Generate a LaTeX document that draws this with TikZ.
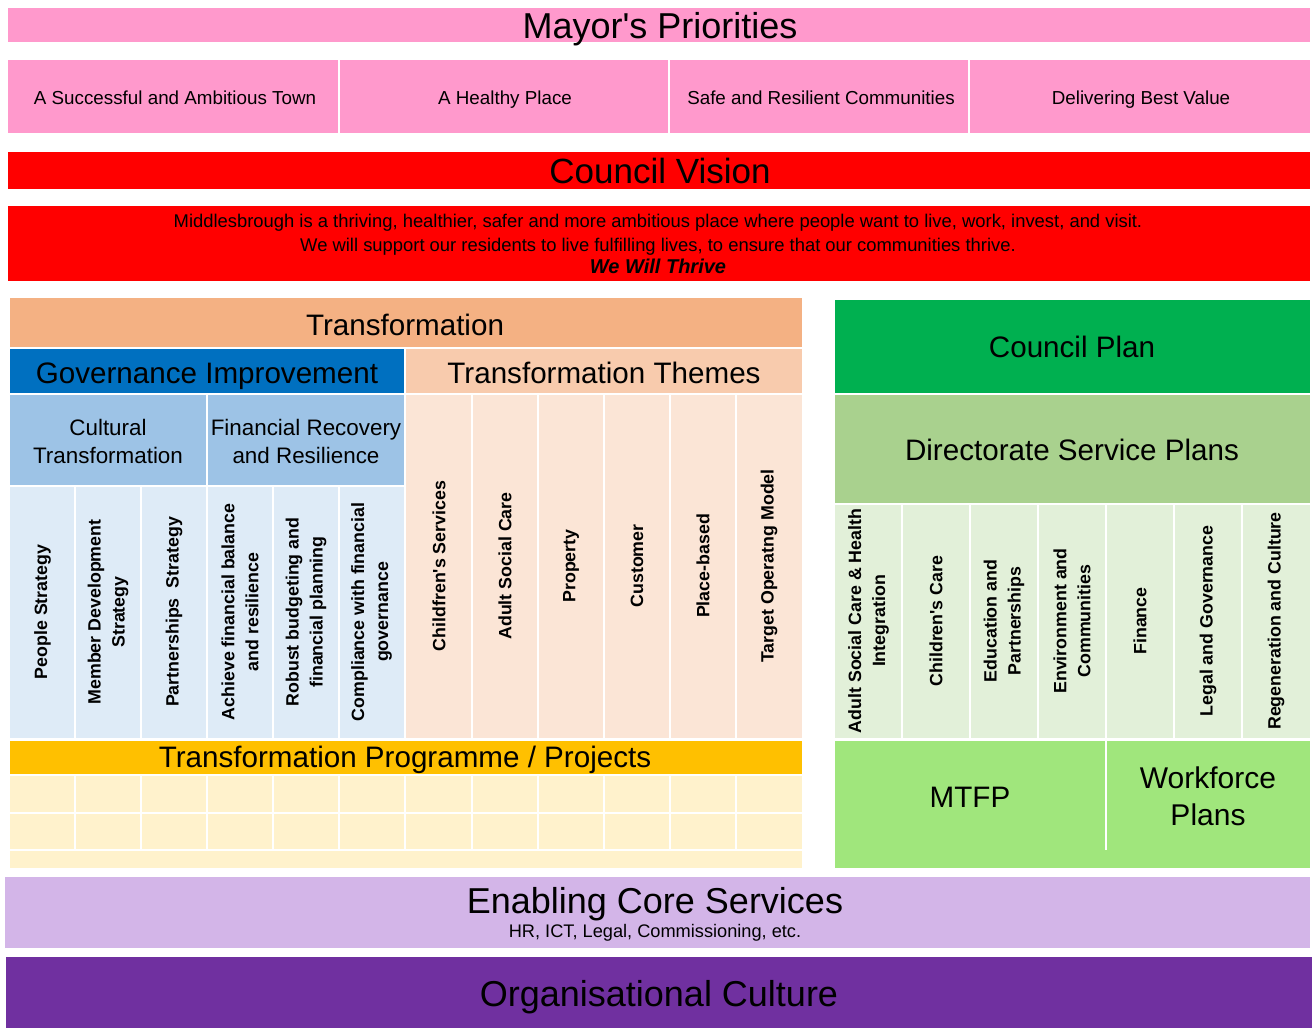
\documentclass[tikz,border=0pt]{standalone}
\usepackage{fontspec}
\setmainfont{Liberation Sans}
\definecolor{cPink}{HTML}{FF99CC}
\definecolor{cRed}{HTML}{FF0000}
\definecolor{cTrans}{HTML}{F4B183}
\definecolor{cBlue}{HTML}{0070C0}
\definecolor{cTheme}{HTML}{F8CBAD}
\definecolor{cMidBlue}{HTML}{9DC3E6}
\definecolor{cLightBlue}{HTML}{DEEBF7}
\definecolor{cThemeLight}{HTML}{FBE5D6}
\definecolor{cYellow}{HTML}{FFC000}
\definecolor{cCream}{HTML}{FFF2CC}
\definecolor{cGreen}{HTML}{00B050}
\definecolor{cDir}{HTML}{A9D18E}
\definecolor{cDirLight}{HTML}{E2F0D9}
\definecolor{cMTFP}{HTML}{A0E67C}
\definecolor{cLav}{HTML}{D3B5E8}
\definecolor{cPurple}{HTML}{7030A0}
\tikzset{
  every node/.style={inner sep=0pt, outer sep=0pt},
  hbig/.style={font=\fontsize{18}{20}\selectfont, anchor=base},
  hmid/.style={font=\fontsize{14.8}{18}\selectfont, anchor=base},
  hsub/.style={font=\fontsize{11.2}{14}\selectfont, align=center},
  rlab/.style={rotate=90, font=\bfseries\fontsize{8.9}{12}\selectfont, align=center},
  prio/.style={font=\fontsize{9.4}{11}\selectfont, anchor=base},
  vis/.style={font=\fontsize{9.2}{10}\selectfont, anchor=base},
  sep/.style={draw=white, line width=1pt},
}
\begin{document}
\begin{tikzpicture}[x=0.5pt,y=-0.5pt]
\useasboundingbox (0,0) rectangle (1315,1028);
\fill[white] (0,0) rectangle (1315,1028);

% Mayor's priorities
\fill[cPink] (8,8) rectangle (1310,42);
\node[hbig] (mayor) at (660,38) {Mayor\textquotesingle s Priorities};
\fill[cPink] (8,60) rectangle (1310,133);
\foreach \xx in {338.5,668.5,968.5} \draw[sep] (\xx,60) -- (\xx,133);
\node[prio] (p1) at (175,104) {A Successful and Ambitious Town};
\node[prio] (p2) at (505,104) {A Healthy Place};
\node[prio] (p3) at (821,104) {Safe and Resilient Communities};
\node[prio] (p4) at (1141,104) {Delivering Best Value};

% Council vision
\fill[cRed] (8,152) rectangle (1310,189);
\node[hbig, font=\fontsize{17.5}{20}\selectfont] (vision) at (660,183) {Council Vision};
\fill[cRed] (8,206) rectangle (1310,281);
\node[vis] (vis1) at (658,227) {Middlesbrough is a thriving, healthier, safer and more ambitious place where people want to live, work, invest, and visit.};
\node[vis] (vis2) at (658,251) {We will support our residents to live fulfilling lives, to ensure that our communities thrive.};
\node[vis, font=\bfseries\itshape\fontsize{10}{10}\selectfont] (vis3) at (658,273) {We Will Thrive};

% Transformation
\fill[cTrans] (10,298) rectangle (802,347);
\node[hmid] (trans) at (405,335) {Transformation};
\fill[cBlue] (10,349) rectangle (404,393);
\node[hmid] (gov) at (207,383) {Governance Improvement};
\fill[cTheme] (406,349) rectangle (802,393);
\node[hmid] (themes) at (604,383) {Transformation Themes};
\fill[cMidBlue] (10,395) rectangle (206,485);
\fill[cMidBlue] (208,395) rectangle (404,485);
\node[hsub] (cult) at (108,441) {Cultural\\Transformation};
\node[hsub] (fin) at (306,441) {Financial Recovery\\and Resilience};
\fill[cLightBlue] (10,487) rectangle (404,738);
\foreach \xx in {75,141,207,273,339} \draw[sep] (\xx,487) -- (\xx,738);
\fill[cThemeLight] (406,395) rectangle (802,738);
\foreach \xx in {472,538,604,670,736} \draw[sep] (\xx,395) -- (\xx,738);

\node[rlab] (g1) at (42.5,612) {People Strategy};
\node[rlab] (g2) at (108,612) {Member Development\\Strategy};
\node[rlab] (g3) at (174,612) {Partnerships\ \ Strategy};
\node[rlab] (g4) at (240,612) {Achieve financial balance\\and resilience};
\node[rlab] (g5) at (306,612) {Robust budgeting and\\financial planning};
\node[rlab] (g6) at (371.5,612) {Compliance with financial\\governance};

\node[rlab] (t1) at (439,566) {Childfren\textquotesingle s Services};
\node[rlab] (t2) at (505,566) {Adult Social Care};
\node[rlab] (t3) at (571,566) {Property};
\node[rlab] (t4) at (637,566) {Customer};
\node[rlab] (t5) at (703,566) {Place-based};
\node[rlab] (t6) at (769,566) {Target Operatng Model};

% Programme
\fill[cYellow] (10,741) rectangle (802,774);
\node[hmid] (prog) at (405,767) {Transformation Programme / Projects};
\fill[cCream] (10,776) rectangle (802,868);
\foreach \yy in {813,849.5} \draw[sep] (10,\yy) -- (802,\yy);
\foreach \xx in {75,141,207,273,339,405,472,538,604,670,736} \draw[sep] (\xx,776) -- (\xx,849.5);

% Council plan side
\fill[cGreen] (835,300) rectangle (1310,393);
\node[hmid] (cplan) at (1072,357) {Council Plan};
\fill[cDir] (835,395) rectangle (1310,503);
\node[hmid] (dsp) at (1072,460) {Directorate Service Plans};
\fill[cDirLight] (835,505) rectangle (1310,738);
\foreach \xx in {902,970,1038,1106,1174,1242} \draw[sep] (\xx,505) -- (\xx,738);
\node[rlab] (d1) at (868.5,621) {Adult Social Care \& Health\\Integration};
\node[rlab] (d2) at (936,621) {Children\textquotesingle s Care};
\node[rlab] (d3) at (1004,621) {Education and\\Partnerships};
\node[rlab] (d4) at (1072,621) {Environment and\\Communities};
\node[rlab] (d5) at (1140,621) {Finance};
\node[rlab] (d6) at (1208,621) {Legal and Governance};
\node[rlab] (d7) at (1276,621) {Regeneration and Culture};

\fill[cMTFP] (835,741) rectangle (1310,868);
\draw[sep] (1106,741) -- (1106,850);
\node[hmid] (mtfp) at (970,807) {MTFP};
\node[font=\fontsize{15}{18.5}\selectfont, align=center] (wfp) at (1208,796) {Workforce\\Plans};

% Bottom
\fill[cLav] (5,877) rectangle (1310,948);
\node[hbig] (ecs) at (655,913) {Enabling Core Services};
\node[font=\fontsize{9.1}{11}\selectfont, anchor=base] (ecssub) at (655,937) {HR, ICT, Legal, Commissioning, etc.};
\fill[cPurple] (6,957) rectangle (1312,1028);
\node[hbig] (org) at (659,1006) {Organisational Culture};
\end{tikzpicture}
\end{document}
